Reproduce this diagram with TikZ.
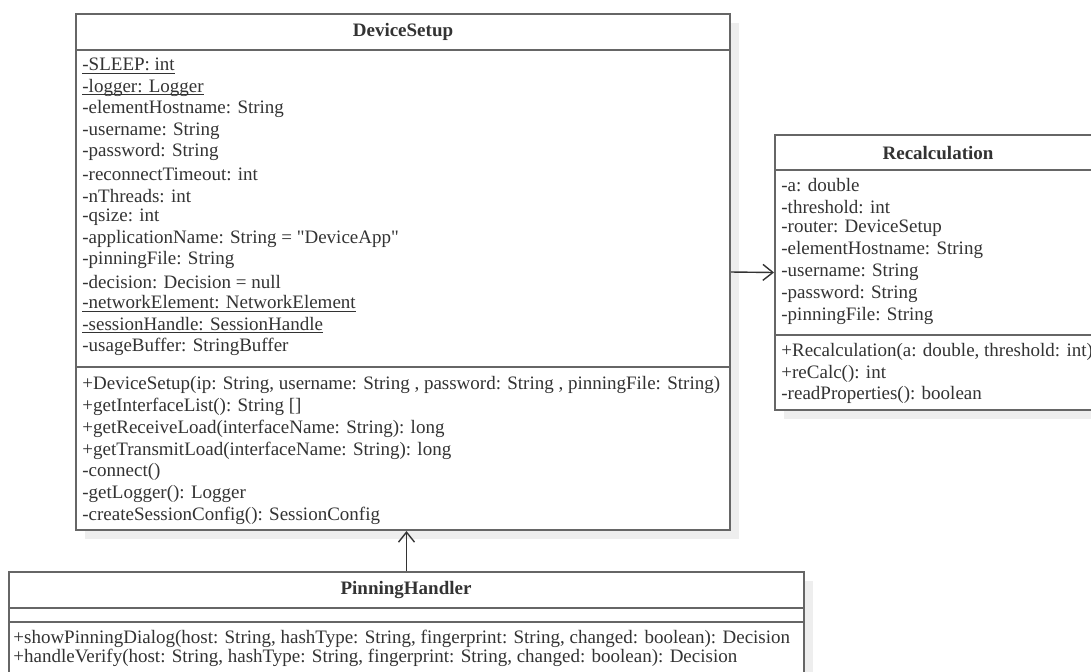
\documentclass[tikz,border=0pt]{standalone}
\usepackage{fontspec}
\setmainfont{Liberation Serif}
\usetikzlibrary{arrows.meta,fit,shadows}
\definecolor{umlline}{HTML}{666666}
\definecolor{umltext}{HTML}{333333}
\definecolor{umlshadow}{HTML}{EEEEEE}
\newcommand\ulmember[1]{\setbox0\hbox{#1}\rlap{\rule[-1.4pt]{\wd0}{0.5pt}}\box0}
\tikzset{
  classbox/.style={draw=umlline, line width=1pt, fill=white, inner sep=0pt,
    drop shadow={shadow xshift=4.5pt, shadow yshift=-4.5pt, fill=umlshadow, opacity=1}},
  sepline/.style={draw=umlline, line width=1pt},
  member/.style={anchor=west, inner sep=0pt, text=umltext, font=\fontsize{9.5}{11}\selectfont},
  classname/.style={inner sep=0pt, text=umltext, font=\fontsize{9.5}{11}\selectfont\bfseries},
}
\begin{document}
\begin{tikzpicture}[x=0.5pt,y=-0.5pt]
\useasboundingbox (0,0) rectangle (1091,671);
\clip (0,0) rectangle (1091,671);
% class boxes
\node[classbox, fit={(76,14) (730,530)}] (ds) {};
\node[classbox, fit={(775,135) (1101,410)}] (rc) {};
\node[classbox, fit={(9,572) (804,690)}] (ph) {};
% compartments
\draw[sepline] (ds.west |- 0,50) -- (ds.east |- 0,50);
\draw[sepline] (ds.west |- 0,367) -- (ds.east |- 0,367);
\draw[sepline] (rc.west |- 0,170) -- (rc.east |- 0,170);
\draw[sepline] (rc.west |- 0,335) -- (rc.east |- 0,335);
\draw[sepline] (ph.west |- 0,608) -- (ph.east |- 0,608);
\draw[sepline] (ph.west |- 0,622) -- (ph.east |- 0,622);
% names
\node[classname] (dsname) at (403,32) {DeviceSetup};
\node[classname] (rcname) at (938,153) {Recalculation};
\node[classname] (phname) at (406,590) {PinningHandler};
% DeviceSetup members
\foreach \m [count=\i from 0] in {\ulmember{-SLEEP: int}, \ulmember{-logger: Logger},
  -elementHostname: String, -username: String, -password: String,
  -reconnectTimeout: int, -nThreads: int, -qsize: int,
  -applicationName: String = \textquotedbl DeviceApp\textquotedbl, -pinningFile: String,
  -decision: Decision = null, \ulmember{-networkElement: NetworkElement},
  \ulmember{-sessionHandle: SessionHandle}, -usageBuffer: StringBuffer}
\node[member] (dsattr\i) at (82,{66+21.6*\i}) {\m};
\foreach \m [count=\i from 0] in {{+DeviceSetup(ip: String, username: String , password: String , pinningFile: String)},
  +getInterfaceList(): String [], +getReceiveLoad(interfaceName: String): long,
  +getTransmitLoad(interfaceName: String): long, -connect(),
  -getLogger(): Logger, -createSessionConfig(): SessionConfig}
\node[member] (dsop\i) at (82,{385+21.8*\i}) {\m};
% Recalculation members
\foreach \m [count=\i from 0] in {-a: double, -threshold: int, -router: DeviceSetup,
  -elementHostname: String, -username: String, -password: String, -pinningFile: String}
\node[member] (rcattr\i) at (781,{185+21.8*\i}) {\m};
\foreach \m [count=\i from 0] in {{+Recalculation(a: double, threshold: int)},
  +reCalc(): int, -readProperties(): boolean}
\node[member] (rcop\i) at (781,{352+21.6*\i}) {\m};
% PinningHandler members
\node[member] (phop0) at (13,639) {+showPinningDialog(host: String, hashType: String, fingerprint: String, changed: boolean): Decision};
\node[member] (phop1) at (13,658) {+handleVerify(host: String, hashType: String, fingerprint: String, changed: boolean): Decision};
% associations
\draw[>={Straight Barb[length=5pt,width=8pt]},->,umltext,line width=0.7pt] (ds.east) -- (rc.west);
\draw[>={Straight Barb[length=5pt,width=8pt]},->,umltext,line width=0.7pt] (ph.north) -- (ph.north |- ds.south);
\end{tikzpicture}
\end{document}
